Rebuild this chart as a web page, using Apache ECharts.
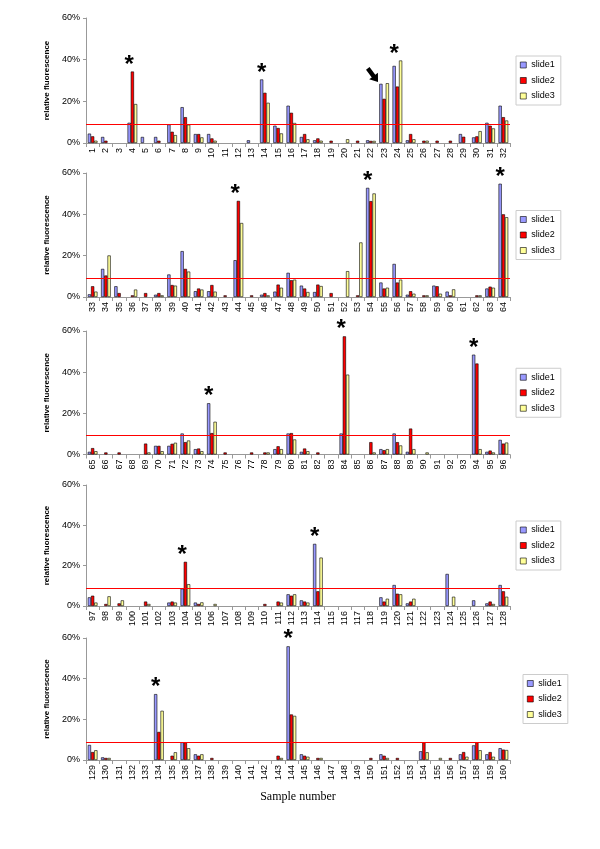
<!DOCTYPE html>
<html><head><meta charset="utf-8">
<script src="https://cdn.jsdelivr.net/npm/echarts@6/dist/echarts.min.js"></script>
<style>html,body{margin:0;padding:0;background:#fff}#c{width:600px;height:849px}</style>
</head><body><div id="c"></div>
<script>
const seriesNames = ['slide1', 'slide2', 'slide3'];

const cats1 = ['1','2','3','4','5','6','7','8','9','10','11','12','13','14','15','16','17','18','19','20','21','22','23','24','25','26','27','28','29','30','31','32'];
const cats2 = ['33','34','35','36','37','38','39','40','41','42','43','44','45','46','47','48','49','50','51','52','53','54','55','56','57','58','59','60','61','62','63','64'];
const cats3 = ['65','66','67','68','69','70','71','72','73','74','75','76','77','78','79','80','81','82','83','84','85','86','87','88','89','90','91','92','93','94','95','96'];
const cats4 = ['97','98','99','100','101','102','103','104','105','106','107','108','109','110','111','112','113','114','115','116','117','118','119','120','121','122','123','124','125','126','127','128'];
const cats5 = ['129','130','131','132','133','134','135','136','137','138','139','140','141','142','143','144','145','146','147','148','149','150','151','152','153','154','155','156','157','158','159','160'];

const p1_slide1 = [4.5,2.9,0,9.7,2.9,2.9,8.9,17.2,4.3,4.3,0,0,1.3,30.5,8.3,17.9,2.9,1.3,0,0,0,1.3,28.4,37.0,1.3,0,0,0,4.3,2.7,9.7,17.9];
const p1_slide2 = [3.2,1.1,0,34.3,0,1.1,5.4,12.4,4.3,2.2,0,0,0,24.1,7.2,14.5,4.3,2.2,1.1,0,1.1,1.0,21.2,27.1,4.3,1.1,1.1,1.1,3.0,3.2,8.3,12.4];
const p1_slide3 = [1.1,0,0,18.7,0,0,3.8,8.8,2.7,1.1,0,0,0,19.3,4.6,9.6,1.8,1.1,0,1.8,0,1.0,28.7,39.6,1.8,1.1,0,0,0,5.7,7.0,10.8];

const p2_slide1 = [1.3,13.6,5.2,0,0,1.1,10.9,22.2,2.8,2.8,0,17.8,0,1.1,2.6,11.7,5.5,2.4,0,0,0,52.8,7.0,16.0,1.1,0,5.5,2.6,0,0,4.1,54.8];
const p2_slide2 = [5.2,10.4,1.9,0.8,1.9,1.9,5.8,13.6,4.1,5.8,0.8,46.5,0.8,1.9,6.0,8.1,4.1,6.0,1.9,0,0.8,46.4,4.1,7.0,2.8,0.8,5.2,0.8,0,0.8,5.0,40.0];
const p2_slide3 = [2.6,20.1,0,3.6,0,0.8,5.5,12.3,3.6,2.6,0,35.8,0,0.8,4.5,8.4,2.4,5.3,0,12.5,26.4,50.1,4.5,8.4,1.6,0.8,1.6,3.7,0,0.8,4.5,38.6];

const p3_slide1 = [1.3,0,0,0,0,4.2,4.2,10.2,2.6,24.9,0,0,0,0,2.6,10.2,1.3,0,0,10.2,0,0,2.6,10.2,1.3,0,0,0,0,48.5,1.3,7.1];
const p3_slide2 = [3.1,1.0,1.0,0,5.3,4.2,5.2,6.0,2.9,10.4,1.0,0,1.0,1.0,4.0,10.4,2.9,1.0,0,57.4,0,6.0,2.1,6.0,12.6,0,0,0,0,44.2,1.9,5.3];
const p3_slide3 = [1.6,0,0,0,1.0,1.6,5.7,6.8,1.6,15.9,0,0,0,1.0,2.6,7.3,1.6,0,0,38.8,0,1.0,2.6,4.4,2.6,1.0,0,0,0,2.6,1.0,5.8];

const p4_slide1 = [4.3,0,0,0,0,0,1.7,8.6,1.7,0,0,0,0,0,0,5.8,2.8,30.8,0,0,0,0,4.3,10.4,1.3,0,0,15.9,0,2.8,1.3,10.4];
const p4_slide2 = [5.1,1.0,1.3,0,2.2,0,2.2,21.9,1.0,0,0,0,0,1.0,2.2,5.1,2.2,7.3,0,0,0,0,2.2,6.1,2.2,0,0,0,0,0,2.2,7.3];
const p4_slide3 = [1.7,4.8,2.8,0,1.0,0,1.7,10.8,1.8,1.0,0,0,0,0,1.7,5.8,1.7,24.0,0,0,0,0,3.6,5.8,3.6,0,0,4.6,0,0,1.0,4.6];

const p5_slide1 = [7.4,1.3,0,0,0,32.4,0,8.7,2.8,0,0,0,0,0,0,55.9,2.8,0,0,0,0,0,2.8,0,0,4.3,0,0,2.8,7.2,2.8,5.8];
const p5_slide2 = [3.9,1.0,0,0,0,13.8,2.1,8.7,2.1,1.0,0,0,0,0,2.1,22.4,2.1,1.0,0,0,0,1.0,2.1,1.0,0,8.7,0,1.0,3.9,8.7,3.9,5.1];
const p5_slide3 = [4.8,1.0,0,0,0,24.2,3.8,5.8,2.8,0,0,0,0,0,1.0,21.7,1.6,1.0,0,0,0,0,1.0,0,0,3.8,1.0,0,1.6,4.8,1.6,4.9];

const yTicks = [0, 20, 40, 60];
const thresholds = [9.0, 8.9, 9.4, 8.8, 8.9];
const starred1 = ['4','14','24'];
const starred2 = ['44','54','64'];
const starred3 = ['74','84','94'];
const starred4 = ['104','114'];
const starred5 = ['134','144'];
const arrowTarget = ['23'];

const panels = [
  {cats: cats1, vals: [p1_slide1, p1_slide2, p1_slide3], star: starred1, arrow: arrowTarget},
  {cats: cats2, vals: [p2_slide1, p2_slide2, p2_slide3], star: starred2, arrow: []},
  {cats: cats3, vals: [p3_slide1, p3_slide2, p3_slide3], star: starred3, arrow: []},
  {cats: cats4, vals: [p4_slide1, p4_slide2, p4_slide3], star: starred4, arrow: []},
  {cats: cats5, vals: [p5_slide1, p5_slide2, p5_slide3], star: starred5, arrow: []}
];

// layout (pixels)
const gridTops = [18, 173, 331, 485, 638];
const gridHeights = [125, 124, 123.5, 121, 122];
const legendLefts = [516, 516, 516, 516, 523];
const colors = ['#9999FF', '#FF0000', '#FFFF99'];
const FONT = 'Liberation Sans, Arial, sans-serif';

const grid = [], xAxis = [], yAxis = [], series = [], legend = [];

panels.forEach((p, i) => {
  grid.push({left: 86, width: 424, top: gridTops[i], height: gridHeights[i]});
  const xa = {
    type: 'category', gridIndex: i, data: p.cats,
    axisLine: {show: true, lineStyle: {color: '#999', width: 1}},
    axisTick: {show: true, length: 4, lineStyle: {color: '#999'}},
    axisLabel: {rotate: 90, interval: 0, fontSize: 9, color: '#000', margin: 5, fontFamily: FONT}
  };
  if (i === 4) {
    xa.name = 'Sample number';
    xa.nameLocation = 'middle';
    xa.nameGap = 31;
    xa.nameTextStyle = {fontFamily: 'Liberation Serif, Times New Roman, serif', fontSize: 12, color: '#000'};
  }
  xAxis.push(xa);
  yAxis.push({
    type: 'value', gridIndex: i, min: yTicks[0], max: yTicks[yTicks.length - 1], interval: yTicks[1] - yTicks[0],
    axisLine: {show: true, lineStyle: {color: '#999', width: 1}},
    axisTick: {show: true, length: 3, lineStyle: {color: '#999'}},
    splitLine: {show: false},
    axisLabel: {formatter: '{value}%', fontSize: 9, color: '#000', margin: 6, fontFamily: FONT},
    name: 'relative fluorescence', nameLocation: 'middle', nameGap: 23,
    nameTextStyle: {fontSize: 8, fontWeight: 'bold', color: '#000', fontFamily: FONT}
  });
  p.vals.forEach((arr, k) => {
    const s = {
      type: 'bar', name: seriesNames[k], xAxisIndex: i, yAxisIndex: i,
      data: arr.map(v => v === 0 ? '-' : v),
      itemStyle: {color: colors[k], borderColor: '#000', borderWidth: 0.6},
      barGap: '0%', barCategoryGap: '27%',
      animation: false
    };
    if (k === 0) {
      s.markLine = {
        silent: true, symbol: ['none', 'none'], animation: false,
        label: {show: false},
        lineStyle: {color: '#FF0000', width: 1, type: 'solid'},
        data: [{yAxis: thresholds[i]}]
      };
      const mp = p.star.map(c => {
        const idx = p.cats.indexOf(c);
        const m = Math.max(p.vals[0][idx], p.vals[1][idx], p.vals[2][idx]);
        return {
          coord: [c, m], symbol: 'circle', symbolSize: 1,
          itemStyle: {color: 'rgba(0,0,0,0)'},
          label: {show: true, formatter: '*', position: 'top', distance: -6,
                  fontSize: 24, fontWeight: 'bold', color: '#000', fontFamily: FONT}
        };
      });
      p.arrow.forEach(c => {
        const idx = p.cats.indexOf(c);
        const m = Math.max(p.vals[0][idx], p.vals[1][idx], p.vals[2][idx]);
        mp.push({
          coord: [c, m], symbol: 'path://M3,0L7,0L7,9L10,9L5,16L0,9L3,9Z',
          symbolSize: [11, 17], symbolRotate: 37, symbolOffset: [-8, -8],
          itemStyle: {color: '#000'}, label: {show: false}
        });
      });
      s.markPoint = {silent: true, animation: false, data: mp};
    }
    series.push(s);
  });
  legend.push({
    orient: 'vertical', left: legendLefts[i], top: gridTops[i] + gridHeights[i] / 2 - 24.5,
    itemWidth: 6, itemHeight: 6, itemGap: 5.5, icon: 'rect',
    padding: [4, 6, 4, 4], borderColor: '#ccc', borderWidth: 1,
    textStyle: {fontSize: 9, color: '#000', fontFamily: FONT, lineHeight: 10},
    itemStyle: {borderColor: '#000', borderWidth: 0.6},
    data: seriesNames
  });
});

const chart = echarts.init(document.getElementById('c'), null, {renderer: 'canvas'});
chart.setOption({
  backgroundColor: '#fff',
  animation: false,
  grid, xAxis, yAxis, series, legend
});
</script>
</body></html>
